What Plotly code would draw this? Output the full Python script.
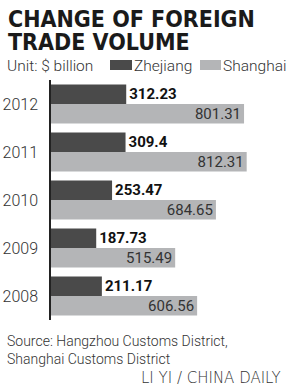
import plotly.graph_objects as go

years = ["2012", "2011", "2010", "2009", "2008"]
zhejiang = [312.23, 309.4, 253.47, 187.73, 211.17]
shanghai = [801.31, 812.31, 684.65, 515.49, 606.56]
zhejiang_labels = ["312.23", "309.4", "253.47", "187.73", "211.17"]
shanghai_labels = ["801.31", "812.31", "684.65", "515.49", "606.56"]

DARK = "#4a4a4a"
LIGHT = "#b4b5b7"
BODY_FONT = "Roboto"

fig = go.Figure()
fig.add_trace(go.Bar(
    y=years, x=zhejiang, orientation="h", name="Zhejiang",
    marker=dict(color=DARK, line=dict(width=0)),
    text=zhejiang_labels, textposition="outside", cliponaxis=False,
    textfont=dict(family="Roboto", size=15, color="#111111", weight="bold"),
))
fig.add_trace(go.Bar(
    y=years, x=shanghai, orientation="h", name="Shanghai",
    marker=dict(color=LIGHT, line=dict(width=0)),
    text=shanghai_labels, textposition="inside", insidetextanchor="end",
    textfont=dict(family=BODY_FONT, size=15, color="#333333"),
))

W, H = 288, 391
L, R, T, B = 51, 0, 80, 71
PW, PH = W - L - R, H - T - B

def px(x):
    return (x - L) / PW

def py(y):
    return (H - B - y) / PH

fig.update_layout(
    width=W, height=H,
    margin=dict(l=L, r=R, t=T, b=B),
    paper_bgcolor="white", plot_bgcolor="white",
    barmode="group", bargap=0.1875, bargroupgap=0,
    showlegend=False,
    uniformtext=dict(mode="show", minsize=15),
    xaxis=dict(range=[0, 983.8], visible=False, fixedrange=True),
    yaxis=dict(
        autorange="reversed", showline=True, linecolor="#222222", linewidth=1.5,
        ticks="", showgrid=False, ticklabelstandoff=8,
        tickfont=dict(family=BODY_FONT, size=16, color="#333333", weight=300),
    ),
    font=dict(family=BODY_FONT),
)

TITLE_FONT = dict(family="DejaVu Sans Condensed", size=23, color="#1a1a1a", weight="bold")
ann = []
ann.append(dict(
    x=px(6), y=py(19), xref="paper", yref="paper", xanchor="left", yanchor="middle",
    text="CHANGE OF FOREIGN", showarrow=False, font=TITLE_FONT,
))
ann.append(dict(
    x=px(6), y=py(42), xref="paper", yref="paper", xanchor="left", yanchor="middle",
    text="TRADE VOLUME", showarrow=False, font=TITLE_FONT,
))
LEG_FONT = dict(family=BODY_FONT, size=15.5, color="#333333", weight=300)
ann.append(dict(
    x=px(5), y=py(66), xref="paper", yref="paper", xanchor="left", yanchor="middle",
    text="Unit: $ billion", showarrow=False, font=LEG_FONT,
))
ann.append(dict(
    x=px(132), y=py(66), xref="paper", yref="paper", xanchor="left", yanchor="middle",
    text="Zhejiang", showarrow=False, font=LEG_FONT,
))
ann.append(dict(
    x=px(221), y=py(66), xref="paper", yref="paper", xanchor="left", yanchor="middle",
    text="Shanghai", showarrow=False, font=LEG_FONT,
))
ann.append(dict(
    x=px(5), y=py(331), xref="paper", yref="paper", xanchor="left", yanchor="top",
    text="Source: Hangzhou Customs District,<br>Shanghai Customs District",
    showarrow=False, align="left",
    font=dict(family=BODY_FONT, size=14, color="#333333", weight=300),
))
ann.append(dict(
    x=px(283), y=py(378), xref="paper", yref="paper", xanchor="right", yanchor="middle",
    text="LI YI / CHINA DAILY", showarrow=False,
    font=dict(family="DejaVu Sans", size=15, color="#333333", weight=300),
))

shapes = [
    dict(type="rect", xref="paper", yref="paper", x0=px(110), x1=px(132),
         y0=py(70), y1=py(60), fillcolor=DARK, line=dict(width=0)),
    dict(type="rect", xref="paper", yref="paper", x0=px(200), x1=px(221),
         y0=py(70), y1=py(60), fillcolor=LIGHT, line=dict(width=0)),
]

fig.update_layout(annotations=ann, shapes=shapes)
fig.write_html("out.html")
